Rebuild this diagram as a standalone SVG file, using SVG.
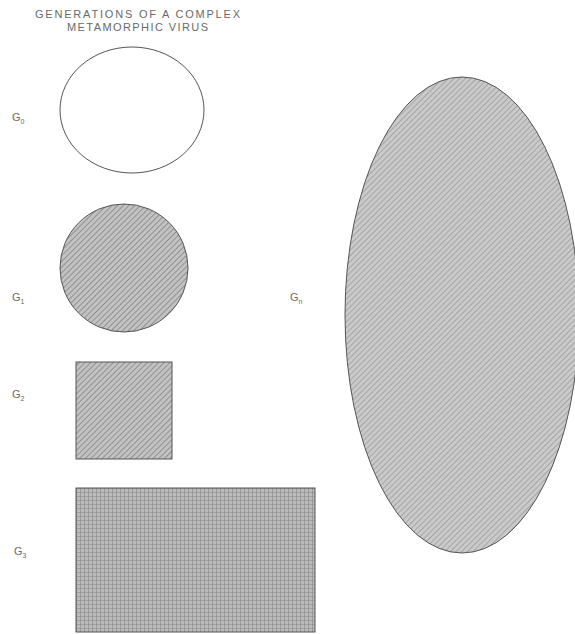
<svg xmlns="http://www.w3.org/2000/svg" width="575" height="634" viewBox="0 0 575 634">
<style>
.t{font-family:"Liberation Sans",Arial,sans-serif;font-size:11px;fill:#6a6a6a;}
.lbl{font-family:"Liberation Sans",Arial,sans-serif;font-size:11px;fill:#6a6a6a;}
.sub{font-size:7px;}
.o{stroke:#555;stroke-width:1;}
</style>
<defs>
<pattern id="diag" width="4" height="4" patternUnits="userSpaceOnUse" patternTransform="rotate(45)">
<rect width="4" height="4" fill="#c2c2c2"/>
<line x1="0" y1="0" x2="0" y2="4" stroke="#858585" stroke-width="1.6"/>
</pattern>
<pattern id="diagL" width="4" height="4" patternUnits="userSpaceOnUse" patternTransform="rotate(45)">
<rect width="4" height="4" fill="#cacaca"/>
<line x1="0" y1="0" x2="0" y2="4" stroke="#959595" stroke-width="1.4"/>
</pattern>
<pattern id="cross" width="4" height="4" patternUnits="userSpaceOnUse">
<rect width="4" height="4" fill="#bbbbbb"/>
<path d="M0 0H4M0 0V4" stroke="#858585" stroke-width="1.2"/>
</pattern>
</defs>
<g id="title">
<text class="t" x="35" y="18" textLength="205" lengthAdjust="spacing">GENERATIONS OF A  COMPLEX</text>
<text class="t" x="67" y="31" textLength="141" lengthAdjust="spacing">METAMORPHIC VIRUS</text>
</g>
<g id="g0">
<ellipse class="o" cx="132" cy="110" rx="72" ry="63" fill="#fff"/>
<text class="lbl" x="12" y="121">G<tspan class="sub" dy="3">0</tspan></text>
</g>
<g id="g1">
<circle class="o" cx="124" cy="268" r="64" fill="url(#diag)"/>
<text class="lbl" x="12" y="301">G<tspan class="sub" dy="3">1</tspan></text>
</g>
<g id="g2">
<rect class="o" x="76" y="362" width="96" height="97" fill="url(#diag)"/>
<text class="lbl" x="12" y="398">G<tspan class="sub" dy="3">2</tspan></text>
</g>
<g id="g3">
<rect class="o" x="76" y="488" width="239" height="144" fill="url(#cross)"/>
<text class="lbl" x="14" y="555">G<tspan class="sub" dy="3">3</tspan></text>
</g>
<g id="gn">
<ellipse class="o" cx="462" cy="315" rx="117" ry="238" fill="url(#diagL)"/>
<text class="lbl" x="290" y="301">G<tspan class="sub" dy="3">n</tspan></text>
</g>
<g id="connectors"></g>
</svg>
